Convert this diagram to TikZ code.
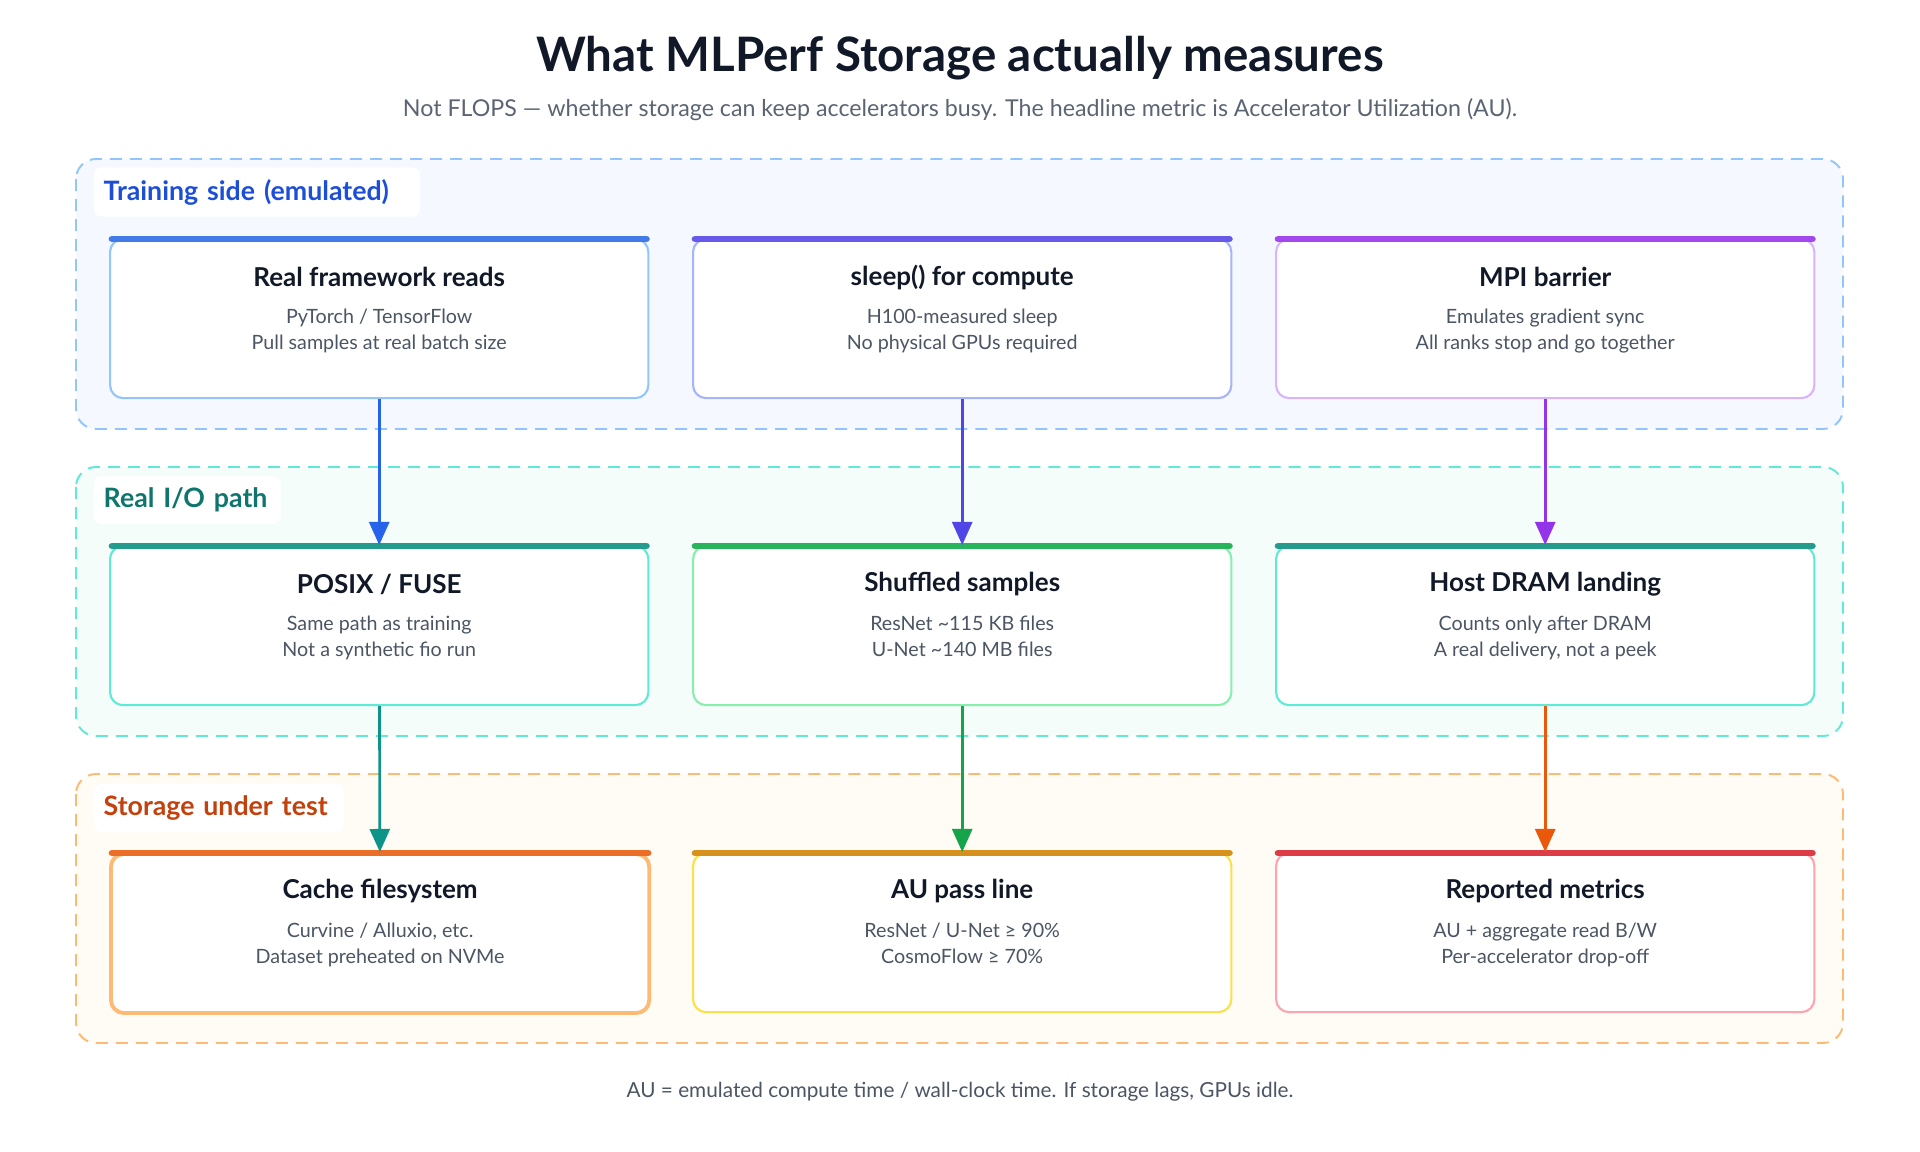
\documentclass[tikz,border=0pt]{standalone}
\usepackage{fontspec}
\setmainfont{Lato}
\usetikzlibrary{arrows.meta,calc}

\definecolor{inkdark}{HTML}{111827}
\definecolor{inkgray}{HTML}{5B6472}
\definecolor{ink}{HTML}{4B5563}
% group colours
\definecolor{trainline}{HTML}{93C5FD}
\definecolor{trainfill}{HTML}{F5F8FE}
\definecolor{traintext}{HTML}{1D4ED8}
\definecolor{ioline}{HTML}{5EEAD4}
\definecolor{iofill}{HTML}{F5FDFB}
\definecolor{iotext}{HTML}{0F766E}
\definecolor{storeline}{HTML}{FDBA74}
\definecolor{storefill}{HTML}{FFFBF5}
\definecolor{storetext}{HTML}{C2410C}
% card colours
\definecolor{readsbar}{HTML}{427AE8}
\definecolor{sleepline}{HTML}{A5B4FC}
\definecolor{sleepbar}{HTML}{685AE8}
\definecolor{mpiline}{HTML}{D8B4FE}
\definecolor{mpibar}{HTML}{A348EC}
\definecolor{tealbar}{HTML}{249B8C}
\definecolor{shuffleline}{HTML}{86EFAC}
\definecolor{shufflebar}{HTML}{28B45A}
\definecolor{cachebar}{HTML}{EB6E28}
\definecolor{auline}{HTML}{FDE047}
\definecolor{aubar}{HTML}{D6911E}
\definecolor{metricsline}{HTML}{FDA4AF}
\definecolor{metricsbar}{HTML}{DC3C46}
% flow colours
\definecolor{flowblue}{HTML}{2563EB}
\definecolor{flowindigo}{HTML}{4F46E5}
\definecolor{flowpurple}{HTML}{9333EA}
\definecolor{flowteal}{HTML}{0D9488}
\definecolor{flowgreen}{HTML}{16A34A}
\definecolor{floworange}{HTML}{EA580C}

\tikzset{
  group/.style={dashed, dash pattern=on 0.12cm off 0.08cm, line width=0.55pt, rounded corners=0.2cm},
  tag/.style={fill=white, rounded corners=0.08cm, anchor=west, inner xsep=0.1cm, minimum height=0.37cm, align=left, font=\bfseries\fontsize{7.6}{9}\selectfont},
  card/.style={draw=#1, fill=white, line width=0.6pt, rounded corners=0.13cm, minimum width=5.38cm, minimum height=1.59cm, anchor=north west, inner sep=0pt},
  head/.style={font=\bfseries\fontsize{7.4}{9}\selectfont, text=inkdark},
  sub/.style={font=\fontsize{5.6}{7.4}\selectfont, text=ink, align=center, anchor=north},
  flow/.style={line width=0.75pt, -{Triangle[length=0.23cm,width=0.2cm]}, draw=#1},
}

\newcommand{\topbar}[2]{\draw[line width=1.9pt, #2, line cap=round] ($(#1.north west)+(3,1)$) -- ($(#1.north east)+(-3,1)$);}

\begin{document}
\begin{tikzpicture}[x=0.01cm, y=-0.01cm]
        \useasboundingbox (0,0) rectangle (1920,1152);

        % title
        \node[font=\bfseries\fontsize{13.5}{16}\selectfont, text=inkdark] (title) at (960,58) {What MLPerf Storage actually measures};
        \node[font=\fontsize{6.6}{8}\selectfont, text=inkgray] (subtitle) at (960,110) {Not FLOPS — whether storage can keep accelerators busy. The headline metric is Accelerator Utilization (AU).};

        % groups
        \draw[group, draw=trainline, fill=trainfill] (76,159) rectangle (1843,429);
        \draw[group, draw=ioline, fill=iofill] (76,467) rectangle (1843,736);
        \draw[group, draw=storeline, fill=storefill] (76,774) rectangle (1843,1043);

        \node[tag, text=traintext, minimum width=3.26cm, text width=3.06cm] (gtrain) at (93,192) {Training side (emulated)};
        \node[tag, text=iotext, minimum width=1.87cm, text width=1.67cm] (gio) at (93,500) {Real I/O path};
        \node[tag, text=storetext, minimum width=2.50cm, text width=2.30cm] (gstore) at (93,808) {Storage under test};

        % row 1
        \node[card=trainline] (reads) at (109,238) {};
        \node[card=sleepline] (sleep) at (692,238) {};
        \node[card=mpiline] (mpi) at (1275,238) {};
        \topbar{reads}{readsbar}
        \topbar{sleep}{sleepbar}
        \topbar{mpi}{mpibar}

        % row 2
        \node[card=ioline] (posix) at (109,545) {};
        \node[card=shuffleline] (shuffle) at (692,545) {};
        \node[card=ioline] (dram) at (1275,545) {};
        \topbar{posix}{tealbar}
        \topbar{shuffle}{shufflebar}
        \topbar{dram}{tealbar}

        % row 3
        \node[card=storeline, line width=1.1pt] (cache) at (109,852) {};
        \node[card=auline] (aupass) at (692,852) {};
        \node[card=metricsline] (metrics) at (1275,852) {};
        \topbar{cache}{cachebar}
        \topbar{aupass}{aubar}
        \topbar{metrics}{metricsbar}

        % card texts
        \node[head] (readsh) at ($(reads.north)+(0,39)$) {Real framework reads};
        \node[sub] (readss) at ($(reads.north)+(0,59)$) {PyTorch / TensorFlow\\Pull samples at real batch size};
        \node[head] (sleeph) at ($(sleep.north)+(0,39)$) {sleep() for compute};
        \node[sub] (sleeps) at ($(sleep.north)+(0,59)$) {H100-measured sleep\\No physical GPUs required};
        \node[head] (mpih) at ($(mpi.north)+(0,39)$) {MPI barrier};
        \node[sub] (mpis) at ($(mpi.north)+(0,59)$) {Emulates gradient sync\\All ranks stop and go together};

        \node[head] (posixh) at ($(posix.north)+(0,39)$) {POSIX / FUSE};
        \node[sub] (posixs) at ($(posix.north)+(0,59)$) {Same path as training\\Not a synthetic fio run};
        \node[head] (shuffleh) at ($(shuffle.north)+(0,39)$) {Shuffled samples};
        \node[sub] (shuffles) at ($(shuffle.north)+(0,59)$) {ResNet \textasciitilde115 KB files\\U-Net \textasciitilde140 MB files};
        \node[head] (dramh) at ($(dram.north)+(0,39)$) {Host DRAM landing};
        \node[sub] (drams) at ($(dram.north)+(0,59)$) {Counts only after DRAM\\A real delivery, not a peek};

        \node[head] (cacheh) at ($(cache.north)+(0,39)$) {Cache filesystem};
        \node[sub] (caches) at ($(cache.north)+(0,59)$) {Curvine / Alluxio, etc.\\Dataset preheated on NVMe};
        \node[head] (aupassh) at ($(aupass.north)+(0,39)$) {AU pass line};
        \node[sub] (aupasss) at ($(aupass.north)+(0,59)$) {ResNet / U-Net ≥ 90\%\\CosmoFlow ≥ 70\%};
        \node[head] (metricsh) at ($(metrics.north)+(0,39)$) {Reported metrics};
        \node[sub] (metricss) at ($(metrics.north)+(0,59)$) {AU + aggregate read B/W\\Per-accelerator drop-off};

        % flows
        \draw[flow=flowblue] (reads) -- (posix);
        \draw[flow=flowindigo] (sleep) -- (shuffle);
        \draw[flow=flowpurple] (mpi) -- (dram);
        \draw[flow=flowteal] (posix) -- (cache);
        \draw[flow=flowgreen] (shuffle) -- (aupass);
        \draw[flow=floworange] (dram) -- (metrics);

        \node[font=\fontsize{5.9}{7}\selectfont, text=ink] (footer) at (960,1092) {AU = emulated compute time / wall-clock time. If storage lags, GPUs idle.};

    \end{tikzpicture}
\end{document}
